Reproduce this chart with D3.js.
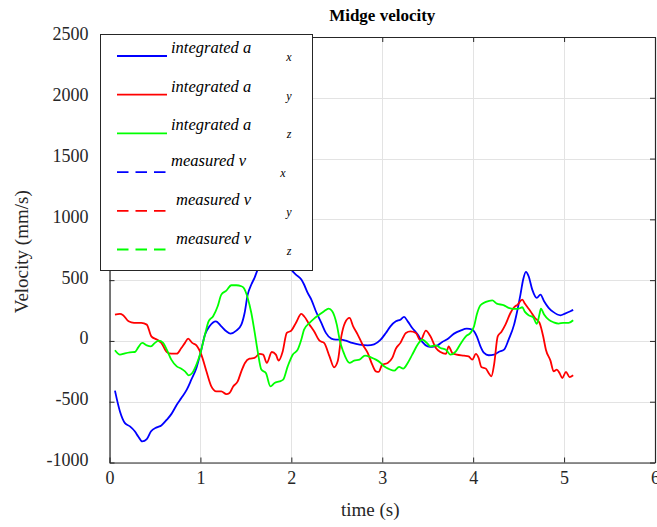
<!DOCTYPE html>
<html>
<head>
<meta charset="utf-8">
<script src="https://cdn.jsdelivr.net/npm/d3@7"></script>
<style>
	body { margin: 0; background: #fff; }
	svg { display: block; font-family: "Liberation Serif", "Times New Roman", serif; }
</style>
</head>
<body>
<div id="chart"></div>
<script>
// time samples (s) and velocities (mm/s)
var tx = [0.06,0.115,0.17,0.225,0.28,0.316,0.36,0.41,0.455,0.52,0.57,0.63,0.68,0.74,0.79,0.85,0.90,0.956,1.01,1.05,1.10,1.17,1.23,1.285,1.33,1.395,1.45,1.486,1.52,1.56,1.595,1.63,1.68,1.75,1.82,1.9,1.96,2.0,2.05,2.11,2.14,2.18,2.22,2.27,2.33,2.38,2.44,2.49,2.55,2.60,2.67,2.75,2.84,2.91,2.98,3.04,3.09,3.15,3.20,3.24,3.28,3.33,3.39,3.44,3.50,3.55,3.61,3.66,3.71,3.79,3.86,3.93,3.99,4.04,4.08,4.12,4.17,4.23,4.28,4.34,4.39,4.45,4.48,4.52,4.55,4.58,4.61,4.65,4.70,4.74,4.78,4.83,4.88,4.96,5.01,5.07,5.10];
var ax = [-409,-580,-676,-703,-745,-786,-827,-808,-745,-711,-695,-648,-602,-525,-470,-401,-319,-222,-72,52,120,161,120,79,60,85,134,230,381,464,519,587,640,710,745,720,650,587,546,505,464,395,340,244,148,66,19,11,11,2,-16,-30,-36,-28,8,66,120,161,175,198,161,107,52,-8,-44,-49,-36,-8,11,60,85,101,93,38,-44,-99,-118,-113,-91,-72,11,134,230,381,505,568,532,422,354,381,326,272,239,211,225,244,255];

var ty = [0.06,0.115,0.15,0.21,0.24,0.30,0.35,0.41,0.46,0.52,0.57,0.63,0.68,0.74,0.79,0.83,0.865,0.91,0.956,1.01,1.066,1.12,1.175,1.23,1.285,1.32,1.36,1.41,1.45,1.49,1.54,1.595,1.65,1.69,1.73,1.785,1.83,1.86,1.905,1.95,2.0,2.05,2.11,2.14,2.20,2.25,2.31,2.36,2.42,2.47,2.51,2.55,2.59,2.64,2.68,2.73,2.78,2.84,2.89,2.93,2.96,3.00,3.06,3.11,3.15,3.20,3.26,3.31,3.37,3.42,3.48,3.53,3.59,3.64,3.70,3.73,3.77,3.82,3.90,3.95,3.99,4.03,4.06,4.09,4.14,4.17,4.20,4.23,4.27,4.31,4.355,4.41,4.45,4.49,4.54,4.57,4.63,4.68,4.73,4.77,4.80,4.85,4.885,4.92,4.95,4.98,5.02,5.06,5.10];
var ay = [217,222,211,161,153,148,148,134,38,11,-16,-91,-105,-105,-58,-16,19,-16,-36,-113,-250,-374,-415,-415,-437,-428,-374,-333,-250,-181,-146,-140,-107,-113,-181,-91,-113,-162,-86,66,85,148,222,203,134,79,2,-16,-127,-217,-168,38,148,189,120,52,-25,-99,-195,-250,-255,-195,-181,-140,-63,-16,66,79,66,2,85,38,-58,-91,-107,-44,-99,-113,-121,-127,-154,-107,-140,-214,-228,-264,-291,-195,38,74,134,230,277,299,340,305,244,189,148,38,-72,-162,-250,-236,-264,-305,-255,-297,-283];

var tz = [0.06,0.115,0.17,0.225,0.28,0.316,0.36,0.41,0.455,0.50,0.54,0.59,0.63,0.68,0.74,0.79,0.83,0.87,0.91,0.956,1.00,1.05,1.09,1.14,1.19,1.23,1.285,1.34,1.395,1.45,1.475,1.52,1.56,1.595,1.63,1.67,1.72,1.77,1.815,1.87,1.91,1.96,2.015,2.07,2.11,2.14,2.20,2.25,2.31,2.36,2.41,2.45,2.50,2.535,2.57,2.64,2.69,2.75,2.81,2.875,2.93,2.97,3.02,3.075,3.13,3.185,3.23,3.28,3.33,3.39,3.44,3.49,3.53,3.59,3.64,3.70,3.75,3.81,3.86,3.92,3.97,4.01,4.04,4.08,4.14,4.21,4.26,4.34,4.39,4.45,4.50,4.54,4.57,4.61,4.66,4.70,4.73,4.745,4.78,4.83,4.885,4.94,4.99,5.05,5.10];
var az = [-77,-113,-102,-94,-91,-53,-16,-36,-44,-16,2,-16,-72,-154,-209,-228,-250,-283,-264,-195,-99,52,161,203,285,381,414,458,458,450,437,354,230,79,-86,-236,-264,-374,-346,-333,-319,-209,-113,-72,11,93,148,184,217,244,266,244,134,-3,-86,-181,-162,-154,-121,-135,-154,-173,-209,-231,-245,-214,-228,-181,-113,-30,11,-16,-44,-36,-58,-72,-113,-86,-25,38,66,120,217,293,321,334,307,293,272,264,266,277,239,211,195,140,222,266,217,175,153,143,148,148,170];

// axis ticks
var xTicks = [0, 1, 2, 3, 4, 5, 6];
var yTicks = [-1000, -500, 0, 500, 1000, 1500, 2000, 2500];

// legend entries (the measured series have no samples in the figure)
var legendText = ["integrated a", "integrated a", "integrated a", "measured v", "measured v", "measured v"];
var legendSub = ["x", "y", "z", "x", "y", "z"];

var colors = ["#0000ff", "#ff0000", "#00ff00"];

var W = 657, H = 527;
// plot box edges (avoid "top", it is window.top)
var pLeft = 109.5, pRight = 655, pTop = 37, pBottom = 462.5;

var x = d3.scaleLinear().domain([0, 6]).range([pLeft, pRight]);
var y = d3.scaleLinear().domain([-1000, 2500]).range([pBottom, pTop]);

var svg = d3.select("#chart").append("svg")
	.attr("width", W)
	.attr("height", H);

// grid
var grid = svg.append("g").attr("stroke", "#e3e3e3").attr("stroke-width", 1);
grid.selectAll(".gx").data(xTicks).join("line")
	.attr("class", "gx")
	.attr("x1", d => Math.round(x(d)) + 0.5).attr("x2", d => Math.round(x(d)) + 0.5)
	.attr("y1", pTop).attr("y2", pBottom);
grid.selectAll(".gy").data(yTicks).join("line")
	.attr("class", "gy")
	.attr("y1", d => Math.round(y(d)) + 0.5).attr("y2", d => Math.round(y(d)) + 0.5)
	.attr("x1", pLeft).attr("x2", pRight);

// lines
var series = [[tx, ax], [ty, ay], [tz, az]];
var line = d3.line()
	.x(d => x(d[0]))
	.y(d => y(d[1]))
	.curve(d3.curveMonotoneX);

svg.append("g").selectAll("path").data(series).join("path")
	.attr("fill", "none")
	.attr("stroke", (d, i) => colors[i])
	.attr("stroke-width", 1.8)
	.attr("d", d => line(d[0].map((t, i) => [t, d[1][i]])));

// axes: bottom/left with labels, top/right box with ticks only
var axisColor = "#262626";
// plain hyphen minus like the original, not d3's unicode minus
var fmt = d => String(d);
var bAxis = svg.append("g").attr("transform", "translate(0," + pBottom + ")")
	.call(d3.axisBottom(x).tickValues(xTicks).tickFormat(fmt).tickSizeInner(-5).tickSizeOuter(0).tickPadding(9));
var lAxis = svg.append("g").attr("transform", "translate(" + pLeft + ",0)")
	.call(d3.axisLeft(y).tickValues(yTicks).tickFormat(fmt).tickSizeInner(-5).tickSizeOuter(0).tickPadding(21));
var tAxis = svg.append("g").attr("transform", "translate(0," + pTop + ")")
	.call(d3.axisTop(x).tickValues(xTicks).tickSizeInner(-5).tickSizeOuter(0).tickFormat(""));
var rAxis = svg.append("g").attr("transform", "translate(" + pRight + ",0)")
	.call(d3.axisRight(y).tickValues(yTicks).tickSizeInner(-5).tickSizeOuter(0).tickFormat(""));

[bAxis, lAxis, tAxis, rAxis].forEach(function (a) {
	a.selectAll("path").attr("stroke", axisColor).attr("stroke-width", 1.2);
	a.selectAll("line").attr("stroke", axisColor);
	a.selectAll("text")
		.attr("fill", "#262626")
		.style("font-family", "'Liberation Serif', 'Times New Roman', serif")
		.style("font-size", "18px");
});
lAxis.selectAll("text").attr("dy", "0.16em");

// titles
svg.append("text")
	.attr("x", (pLeft + pRight) / 2).attr("y", 21)
	.attr("text-anchor", "middle")
	.style("font-size", "17px").style("font-weight", "bold")
	.text("Midge velocity");

svg.append("text")
	.attr("x", (pLeft + pRight) / 2 - 12).attr("y", 516)
	.attr("text-anchor", "middle")
	.attr("fill", "#262626")
	.style("font-size", "19px")
	.text("time (s)");

svg.append("text")
	.attr("transform", "translate(28," + ((pTop + pBottom) / 2 + 2) + ") rotate(-90)")
	.attr("text-anchor", "middle")
	.attr("fill", "#262626")
	.style("font-size", "19px")
	.text("Velocity (mm/s)");

// legend
var lg = svg.append("g");
lg.append("rect")
	.attr("x", 100.5).attr("y", 34.5)
	.attr("width", 212).attr("height", 236)
	.attr("fill", "#fff")
	.attr("stroke", axisColor)
	.attr("stroke-width", 1);

var rowY = d3.scaleLinear().domain([0, 5]).range([56, 249.5]);
var rows = lg.selectAll(".row").data(legendText).join("g")
	.attr("class", "row")
	.attr("transform", (d, i) => "translate(0," + rowY(i) + ")");

rows.append("line")
	.attr("x1", 117).attr("x2", 167)
	.attr("stroke", (d, i) => colors[i % 3])
	.attr("stroke-width", 1.8)
	.attr("stroke-dasharray", (d, i) => i < 3 ? null : "11.5,7");

rows.append("text")
	.attr("x", (d, i) => i < 4 ? 171 : 176)
	.attr("y", (d, i) => i < 3 ? -3 : -6)
	.style("font-size", "16.5px").style("font-style", "italic")
	.text(d => d);

rows.append("text")
	.attr("x", (d, i) => i === 3 ? 283 : 289)
	.attr("y", 5)
	.attr("text-anchor", "middle")
	.style("font-size", "12px").style("font-style", "italic")
	.text((d, i) => legendSub[i]);
</script>
</body>
</html>
